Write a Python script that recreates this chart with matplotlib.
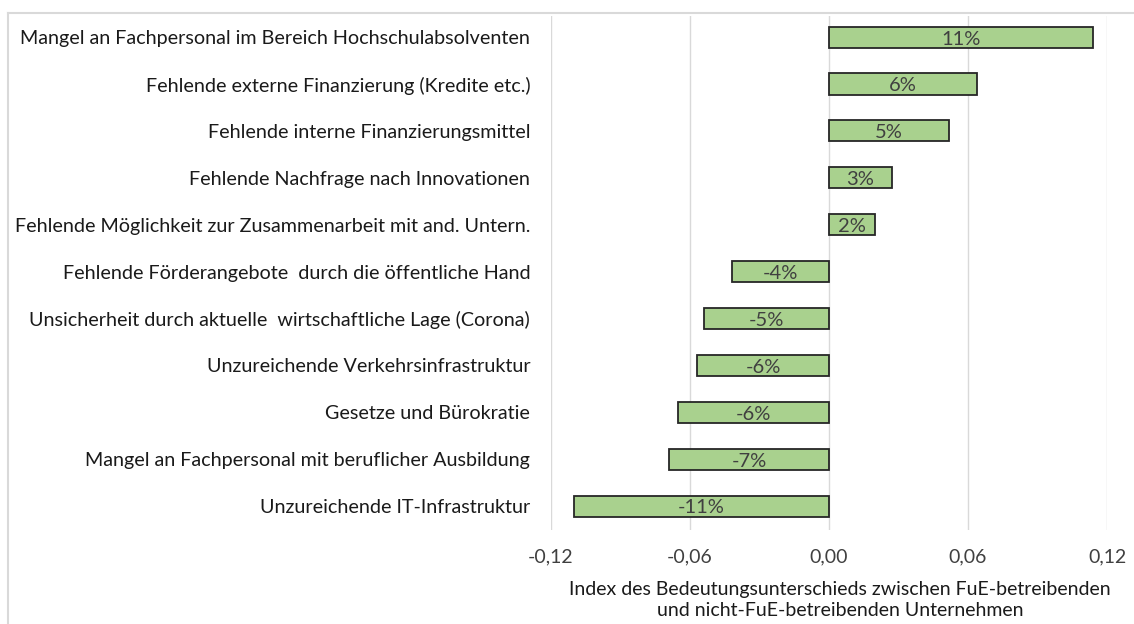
import matplotlib.pyplot as plt
from matplotlib.lines import Line2D

plt.rcParams['font.family'] = ['Lato', 'DejaVu Sans']

kategorien = [
    "Mangel an Fachpersonal im Bereich Hochschulabsolventen",
    "Fehlende externe Finanzierung (Kredite etc.)",
    "Fehlende interne Finanzierungsmittel",
    "Fehlende Nachfrage nach Innovationen",
    "Fehlende Möglichkeit zur Zusammenarbeit mit and. Untern.",
    "Fehlende Förderangebote  durch die öffentliche Hand",
    "Unsicherheit durch aktuelle  wirtschaftliche Lage (Corona)",
    "Unzureichende Verkehrsinfrastruktur",
    "Gesetze und Bürokratie",
    "Mangel an Fachpersonal mit beruflicher Ausbildung",
    "Unzureichende IT-Infrastruktur",
]
werte = [0.114, 0.064, 0.052, 0.027, 0.020, -0.042, -0.054, -0.057, -0.065, -0.069, -0.110]
xticks = [-0.12, -0.06, 0.00, 0.06, 0.12]
xticklabels = ["-0,12", "-0,06", "0,00", "0,06", "0,12"]
achsentitel = "Index des Bedeutungsunterschieds zwischen FuE-betreibenden\nund nicht-FuE-betreibenden Unternehmen"

fig = plt.figure(figsize=(11.34, 6.24), dpi=100)
ax = fig.add_axes([0.4859, 0.1506, 0.4903, 0.8237])

y = list(range(len(kategorien)))
bars = ax.barh(y, werte, height=0.45, color="#A9D18E", edgecolor="#262626", linewidth=1.3, zorder=3)

for b, v in zip(bars, werte):
    ax.text(b.get_x() + b.get_width() / 2, b.get_y() + b.get_height() / 2 + 0.04,
            f"{round(v*100):d}%", ha="center", va="center", fontsize=14.5, color="#404040", zorder=4)

ax.set_xlim(-0.12, 0.12)
ax.set_ylim(10.51, -0.45)
ax.set_xticks(xticks)
ax.set_xticklabels(xticklabels, fontsize=14, color="#404040")
ax.set_yticks(y)
ax.set_yticklabels(kategorien, fontsize=14.2, color="#1a1a1a")
ax.tick_params(axis="both", length=0)
ax.tick_params(axis="x", pad=13)
ax.tick_params(axis="y", pad=15)
ax.grid(axis="x", color="#D9D9D9", linewidth=1, zorder=0)
for s in ax.spines.values():
    s.set_visible(False)

fig.text(840 / 1134, 1 - 600 / 624, achsentitel, ha="center", va="center",
         fontsize=14, color="#1a1a1a", linespacing=1.35)

# heller Rahmen um das Diagramm
fig.add_artist(Line2D([8/1134, 1], [1 - 13/624, 1 - 13/624], color="#D9D9D9", linewidth=1.5))
fig.add_artist(Line2D([8/1134, 8/1134], [0, 1 - 13/624], color="#D9D9D9", linewidth=1.5))

fig.savefig("out.png", dpi=100)
